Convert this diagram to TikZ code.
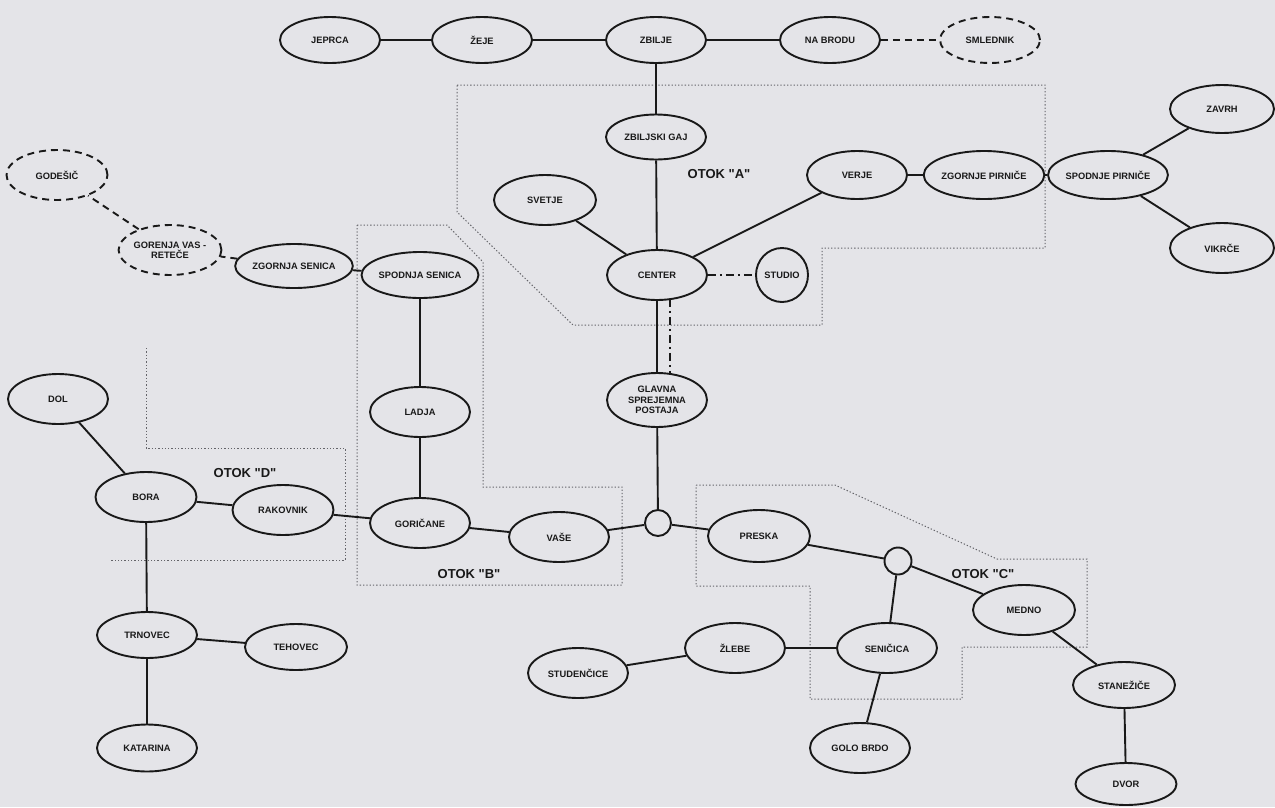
\documentclass[tikz,border=0pt]{standalone}
\usepackage{fontspec}
\setmainfont{Liberation Sans}
\usetikzlibrary{shapes.geometric,calc}
\definecolor{bg}{RGB}{228,228,232}
\definecolor{ink}{RGB}{25,25,25}
\definecolor{zone}{RGB}{100,100,105}
\newcommand{\qq}{\textquotedbl}
\begin{document}
\begin{tikzpicture}[x=1pt,y=-1pt,
  place/.style={ellipse, draw=ink, line width=1.9pt, inner sep=0pt, minimum width=100pt, minimum height=48pt, font=\bfseries\fontsize{9.3}{10}\selectfont, text=ink, align=center},
  planned/.style={place, dash pattern=on 7pt off 5pt},
  hub/.style={circle, draw=ink, line width=1.9pt, minimum size=26pt, inner sep=0pt},
  link/.style={draw=ink, line width=1.9pt},
  plink/.style={link, dash pattern=on 7pt off 5pt},
  dlink/.style={link, dash pattern=on 8pt off 4pt on 2pt off 4pt},
  zoneline/.style={draw=zone, line width=1pt, dash pattern=on 1.3pt off 2pt},
  zonelabel/.style={font=\bfseries\fontsize{13}{14}\selectfont, text=ink}]

\fill[bg] (0,0) rectangle (1275,807);
\useasboundingbox (0,0) rectangle (1275,807);

% island boundaries
\draw[zoneline] (457,85) -- (1045,85) -- (1045,248) -- (822,248) -- (822,325) -- (573,325) -- (457,212) -- cycle;
\draw[zoneline] (357,225) -- (447,225) -- (483,262) -- (483,487) -- (622,487) -- (622,585) -- (357,585) -- cycle;
\draw[zoneline] (696,485) -- (835,485) -- (997,559) -- (1087,559) -- (1087,647) -- (962,647) -- (962,699) -- (810,699) -- (810,586) -- (696,586) -- cycle;
\draw[zoneline] (146,348) -- (146,448) -- (345,448) -- (345,560) -- (110,560);

% labels of islands
\node[zonelabel] (otoka) at (719,174) {OTOK \qq A\qq};
\node[zonelabel] (otokb) at (469,574) {OTOK \qq B\qq};
\node[zonelabel] (otokc) at (983,574) {OTOK \qq C\qq};
\node[zonelabel] (otokd) at (245,473) {OTOK \qq D\qq};

% nodes
\node[place, minimum height=46pt] (jeprca) at (330,40) {JEPRCA};
\node[place, minimum height=46pt] (zeje) at (482,40) {ŽEJE};
\node[place, minimum height=46pt] (zbilje) at (656,40) {ZBILJE};
\node[place, minimum height=46pt] (nabrodu) at (830,40) {NA BRODU};
\node[planned, minimum height=46pt] (smlednik) at (990,40) {SMLEDNIK};
\node[place, minimum height=45pt] (zgaj) at (656,137) {ZBILJSKI GAJ};
\node[place, minimum width=102pt, minimum height=50pt] (svetje) at (545,200) {SVETJE};
\node[place] (verje) at (857,175) {VERJE};
\node[place, minimum width=104pt] (zpirnice) at (984,175) {ZGORNJE PIRNIČE};
\node[place, minimum width=104pt] (spirnice) at (1108,175) {SPODNJE PIRNIČE};
\node[place, minimum width=104pt] (zavrh) at (1222,109) {ZAVRH};
\node[place, minimum width=104pt, minimum height=50pt] (vikrce) at (1222,248) {VIKRČE};
\node[place, minimum height=50pt] (center) at (657,275) {CENTER};
\node[place, minimum width=52pt, minimum height=54pt] (studio) at (782,275) {STUDIO};
\node[planned, minimum width=101pt, minimum height=50pt] (godesic) at (57,175) {GODEŠIČ};
\node[planned, minimum width=97pt, minimum height=50pt] (gorenja) at (170,250) {GORENJA VAS -\\RETEČE};
\node[place, minimum width=98pt, minimum height=44pt] (zsenica) at (294,266) {ZGORNJA SENICA};
\node[place, minimum height=46pt] (ssenica) at (420,275) {SPODNJA SENICA};
\node[place, minimum height=50pt] (ladja) at (420,412) {LADJA};
\node[place, minimum height=54pt, font=\bfseries\fontsize{9.3}{10.5}\selectfont] (glavna) at (657,400) {GLAVNA\\SPREJEMNA\\POSTAJA};
\node[place, minimum height=50pt] (dol) at (58,399) {DOL};
\node[place, minimum width=101pt, minimum height=50pt] (bora) at (146,497) {BORA};
\node[place, minimum width=101pt, minimum height=50pt] (rakovnik) at (283,510) {RAKOVNIK};
\node[place, minimum height=50pt] (goricane) at (420,523) {GORIČANE};
\node[place, minimum height=50pt] (vase) at (559,537) {VAŠE};
\node[hub] (hub1) at (658,523) {};
\node[place, minimum width=102pt, minimum height=52pt] (preska) at (759,536) {PRESKA};
\node[hub, minimum size=27pt] (hub2) at (898,561) {};
\node[place, minimum width=102pt, minimum height=50pt] (medno) at (1024,610) {MEDNO};
\node[place, minimum height=50pt] (zlebe) at (735,648) {ŽLEBE};
\node[place, minimum height=50pt] (senicica) at (887,648) {SENIČICA};
\node[place, minimum height=50pt] (studencice) at (578,673) {STUDENČICE};
\node[place, minimum height=46pt] (trnovec) at (147,635) {TRNOVEC};
\node[place, minimum width=102pt, minimum height=46pt] (tehovec) at (296,647) {TEHOVEC};
\node[place, minimum width=102pt, minimum height=46pt] (stanezice) at (1124,685) {STANEŽIČE};
\node[place, minimum height=50pt] (golobrdo) at (860,748) {GOLO BRDO};
\node[place, minimum height=47pt] (katarina) at (147,748) {KATARINA};
\node[place, minimum width=101pt, minimum height=42pt] (dvor) at (1126,784) {DVOR};

% connectors
\draw[link] (jeprca) -- (zeje);
\draw[link] (zeje) -- (zbilje);
\draw[link] (zbilje) -- (nabrodu);
\draw[plink] (nabrodu) -- (smlednik);
\draw[link] (zbilje) -- (zgaj);
\draw[link] (zgaj) -- (center);
\draw[link] (svetje) -- (center);
\draw[link] (center) -- (verje);
\draw[link] (verje) -- (zpirnice);
\draw[link] (zpirnice) -- (spirnice);
\draw[link] (spirnice) -- (zavrh);
\draw[link] (spirnice) -- (vikrce);
\draw[dlink] (center) -- (studio);
\draw[link] (center) -- (glavna);
\draw[dlink] ($(center.south)+(13,-2)$) -- ($(glavna.north)+(13,3)$);
\draw[link] (glavna) -- (hub1);
\draw[link] (hub1) -- (vase);
\draw[link] (hub1) -- (preska);
\draw[link] (vase) -- (goricane);
\draw[link] (goricane) -- (ladja);
\draw[link] (ladja) -- (ssenica);
\draw[link] (ssenica) -- (zsenica);
\draw[plink] (zsenica) -- (gorenja);
\draw[plink] (gorenja) -- (godesic);
\draw[link] (goricane) -- (rakovnik);
\draw[link] (rakovnik) -- (bora);
\draw[link] (bora) -- (dol);
\draw[link] (bora) -- (trnovec);
\draw[link] (trnovec) -- (tehovec);
\draw[link] (trnovec) -- (katarina);
\draw[link] (preska) -- (hub2);
\draw[link] (hub2) -- (medno);
\draw[link] (hub2) -- (senicica);
\draw[link] (senicica) -- (zlebe);
\draw[link] (zlebe) -- (studencice);
\draw[link] (senicica) -- (golobrdo);
\draw[link] (medno) -- (stanezice);
\draw[link] (stanezice) -- (dvor);
\end{tikzpicture}
\end{document}
